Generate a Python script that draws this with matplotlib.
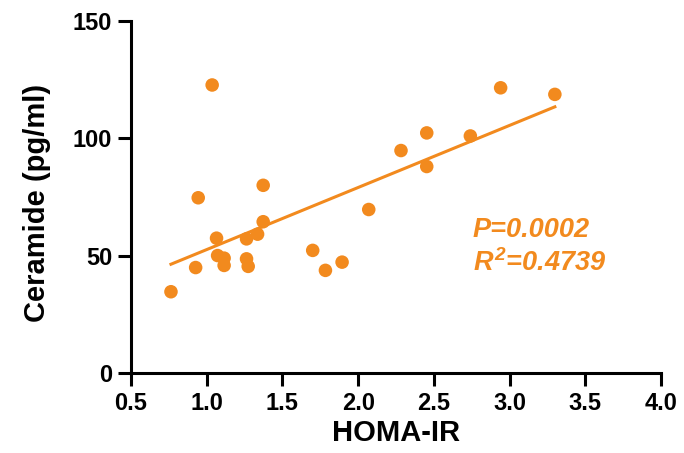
import numpy as np
import matplotlib
matplotlib.use("Agg")
import matplotlib.pyplot as plt

# HOMA-IR vs ceramide
homa_ir = [1.036, 0.944, 1.373, 1.373, 1.065, 1.263, 1.336, 1.072, 1.115, 1.115,
           0.927, 1.263, 1.274, 0.764, 1.70, 1.784, 1.894, 2.070,
           2.941, 3.299, 2.453, 2.741, 2.283, 2.453]
ceramide = [122.7, 74.7, 80.0, 64.5, 57.5, 57.2, 59.2, 50.1, 49.0, 45.9,
            45.0, 48.7, 45.5, 34.7, 52.3, 43.8, 47.3, 69.7,
            121.5, 118.7, 102.3, 101.0, 94.8, 88.0]
xticks = [0.5, 1.0, 1.5, 2.0, 2.5, 3.0, 3.5, 4.0]
yticks = [0, 50, 100, 150]
p_text = "P=0.0002"
r2_text = r"$R^{2}$=0.4739"

orange = "#F28A1E"
plt.rcParams["font.family"] = ["Liberation Sans", "DejaVu Sans"]
plt.rcParams["font.weight"] = "bold"
plt.rcParams["mathtext.fontset"] = "custom"
plt.rcParams["mathtext.it"] = "Liberation Sans:bold:italic"
plt.rcParams["mathtext.rm"] = "Liberation Sans:bold:italic"

fig = plt.figure(figsize=(6.84, 4.53), dpi=100)
ax = fig.add_axes([0.1915, 0.176, 0.7749, 0.778])

x = np.array(homa_ir)
y = np.array(ceramide)
ax.scatter(x, y, s=95, color=orange, edgecolors="none", zorder=3, clip_on=False)

# linear fit over the data range
slope, icpt = np.polyfit(x, y, 1)
xf = np.array([x.min(), x.max()])
ax.plot(xf, slope * xf + icpt, color=orange, lw=2.2, zorder=2)

ax.set_xlim(0.5, 4.0)
ax.set_ylim(0, 150)
ax.set_xticks(xticks)
ax.set_yticks(yticks)
ax.set_xticklabels([f"{t:.1f}" for t in xticks])
ax.tick_params(labelsize=17, width=2.2, length=9.5, direction="out", pad=4)
for lab in ax.get_xticklabels() + ax.get_yticklabels():
    lab.set_fontweight("bold")

for side in ["top", "right"]:
    ax.spines[side].set_visible(False)
for side in ["left", "bottom"]:
    ax.spines[side].set_linewidth(2.2)

ax.set_xlabel("HOMA-IR", fontsize=21, fontweight="bold", labelpad=3)
ax.set_ylabel("Ceramide (pg/ml)", fontsize=21, fontweight="bold", labelpad=16)
ax.yaxis.label.set_y(0.483)

fig.text(473 / 684, 1 - 237 / 453, p_text, color=orange,
         fontsize=19.5, fontweight="bold", fontstyle="italic")
fig.text(473 / 684, 1 - 271 / 453, r2_text, color=orange,
         fontsize=19.5, fontweight="bold", fontstyle="italic")

fig.savefig("out.png", dpi=100)
